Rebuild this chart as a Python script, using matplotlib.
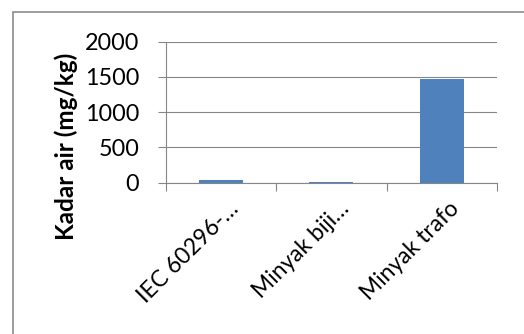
import matplotlib
matplotlib.use("Agg")
import matplotlib.pyplot as plt
import matplotlib.transforms as mtransforms
from matplotlib.patches import Rectangle

categories = ["IEC 60296-…", "Minyak biji…", "Minyak trafo"]
values = [38, 3, 1470]
yticks = [0, 500, 1000, 1500, 2000]
ylabel = "Kadar air (mg/kg)"

plt.rcParams['font.family'] = ['Lato', 'DejaVu Sans']

W, H = 524, 334
fig = plt.figure(figsize=(W / 100, H / 100), dpi=100)

# outer chart border
fig.patches.append(Rectangle((12.5 / W, -0.1), 1.2, 1 - 11.5 / H + 0.1,
                             transform=fig.transFigure, fill=False,
                             edgecolor="#8c8c8c", linewidth=1.2))

ax = fig.add_axes([165.5 / W, 1 - 182.7 / H, (497 - 165.5) / W, (182.7 - 41.7) / H])
x = list(range(len(categories)))
ax.bar(x, values, width=0.4, color="#4F81BD", zorder=3)

ax.set_xlim(-0.5, len(categories) - 0.5)
ax.set_ylim(0, 2000)
ax.set_yticks(yticks)
ax.set_yticklabels([str(t) for t in yticks], fontsize=16.8)
ax.yaxis.grid(True, color="#868686", linewidth=0.8, zorder=0)

ax.set_xticks(x)
ax.set_xticklabels(categories, fontsize=16.5, rotation=45, ha="right",
                   rotation_mode="anchor")
ax.set_xticks([i - 0.5 for i in range(len(categories) + 1)], minor=True)
ax.tick_params(axis="x", which="major", length=0, pad=10)
ax.tick_params(axis="x", which="minor", length=6, color="#868686", width=0.8)
ax.tick_params(axis="y", length=6, color="#868686", width=0.8, pad=13)

offset = mtransforms.ScaledTranslation(5 / 72, -1 / 72, fig.dpi_scale_trans)
for lbl in ax.get_xticklabels():
    lbl.set_transform(lbl.get_transform() + offset)

for side in ["top", "right"]:
    ax.spines[side].set_visible(False)
for side in ["left", "bottom"]:
    ax.spines[side].set_color("#868686")
    ax.spines[side].set_linewidth(0.8)

fig.text(66 / W, 1 - 146 / H, ylabel, rotation=90, ha="center", va="center",
         fontsize=17.5, fontweight="bold")

fig.savefig("out.png", dpi=100)
